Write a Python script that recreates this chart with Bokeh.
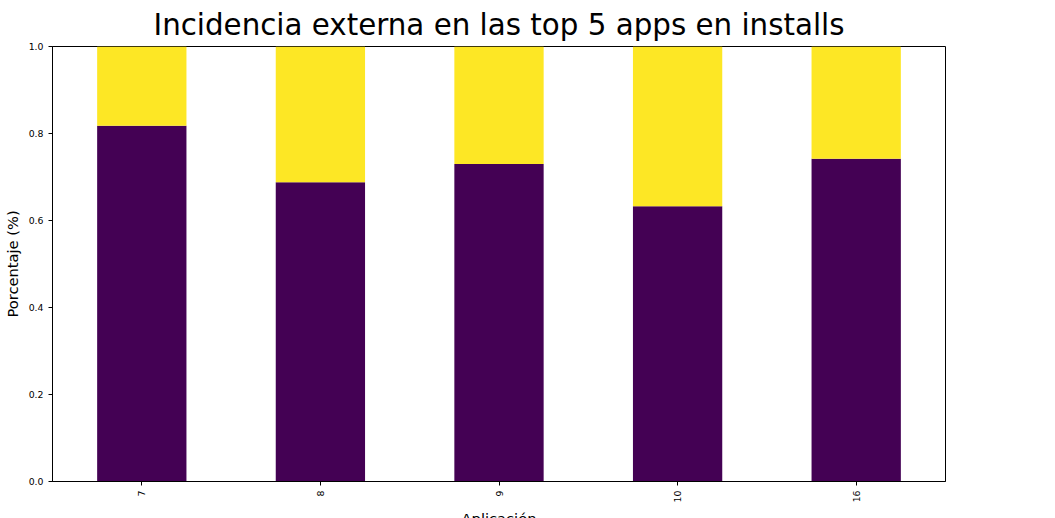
from bokeh.plotting import figure
from bokeh.models import Legend, LegendItem, FixedTicker, NumeralTickFormatter, ColumnDataSource
from bokeh.embed import file_html
from bokeh.resources import INLINE
import math

# data
apps = ["7", "8", "9", "10", "16"]
otros = [0.818, 0.688, 0.730, 0.633, 0.742]
competencia = [1 - v for v in otros]

src = ColumnDataSource(dict(app=apps, Otros=otros, Competencia=competencia))

p = figure(x_range=apps, y_range=(0, 1), frame_width=893, frame_height=435,
           output_backend="svg", toolbar_location=None,
           title="Incidencia externa en las top 5 apps en installs",
           min_border_left=5, min_border_right=0, min_border_bottom=5, min_border_top=0)
p.title.text_font = "DejaVu Sans"
p.title.text_font_size = "22pt"
p.title.text_font_style = "normal"
p.title.text_color = "black"
p.title.align = "center"

r = p.vbar_stack(["Otros", "Competencia"], x="app", width=0.5, source=src,
                 color=["#440154", "#fde725"], line_color=None)

p.xgrid.visible = False
p.ygrid.visible = False
p.outline_line_color = "black"
p.x_range.range_padding = 0.0
p.yaxis.ticker = FixedTicker(ticks=[0, 0.2, 0.4, 0.6, 0.8, 1.0])
p.yaxis.formatter = NumeralTickFormatter(format="0.0")
p.xaxis.major_label_orientation = math.pi / 2
p.xaxis.axis_label = "Aplicación"
p.yaxis.axis_label = "Porcentaje (%)"
for ax in (p.xaxis, p.yaxis):
    ax.axis_label_text_font = "DejaVu Sans"
    ax.axis_label_text_font_size = "11pt"
    ax.axis_label_text_font_style = "normal"
    ax.axis_label_text_color = "black"
    ax.major_label_text_font = "DejaVu Sans"
    ax.major_label_text_font_size = "7pt"
    ax.major_label_text_color = "black"
    ax.minor_tick_line_color = None
    ax.major_tick_in = 0
    ax.major_tick_out = 4

legend = Legend(items=[LegendItem(label="Competencia", renderers=[r[1]]),
                       LegendItem(label="Otros", renderers=[r[0]])],
                label_text_font="DejaVu Sans", label_text_font_size="7pt",
                label_text_color="black",
                glyph_height=10, glyph_width=20, spacing=2, padding=4,
                border_line_color="#cccccc", location="center", margin=5)
p.add_layout(legend, "right")

open("out.html", "w").write(file_html(p, INLINE))
